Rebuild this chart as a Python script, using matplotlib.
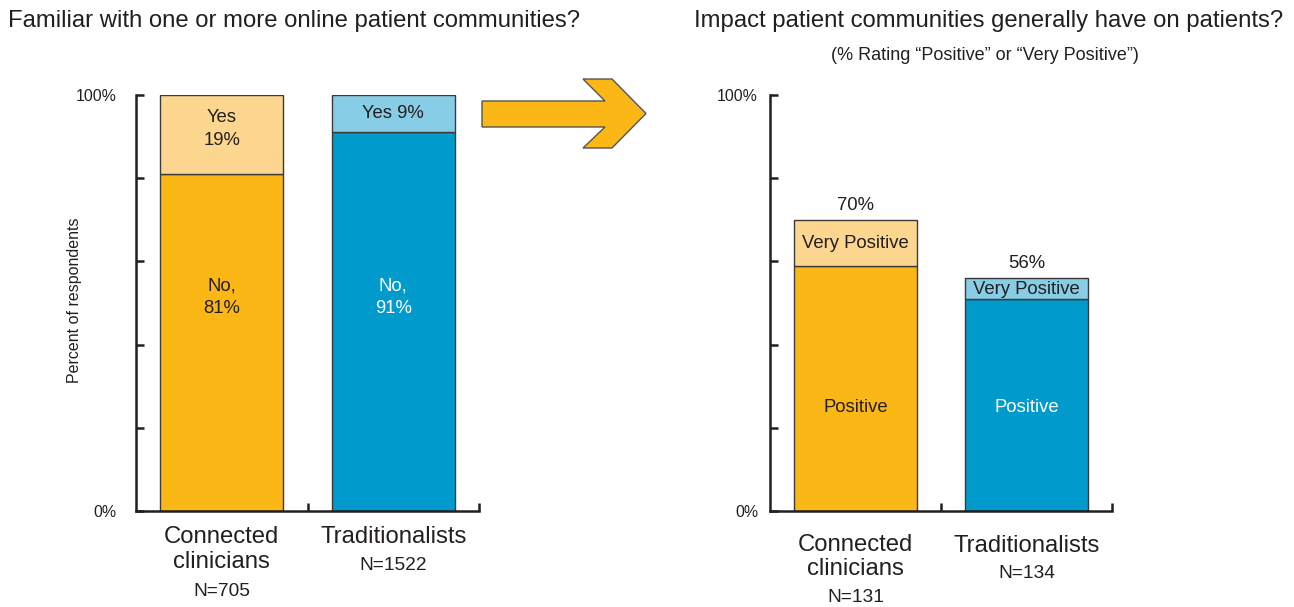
import matplotlib
matplotlib.use("Agg")
import matplotlib.pyplot as plt
from matplotlib.patches import Polygon

plt.rcParams["font.family"] = ["Liberation Sans", "DejaVu Sans"]

# data
groups = ["Connected\nclinicians", "Traditionalists"]
left_n = ["N=705", "N=1522"]
right_n = ["N=131", "N=134"]
familiar_no = [81, 91]
familiar_yes = [19, 9]
impact_positive = [59, 51]
impact_very = [11, 5]
impact_total = [70, 56]

ORANGE = "#fbb715"
ORANGE_LT = "#fdd68f"
BLUE = "#009bcc"
BLUE_LT = "#88cde6"
DARK = "#231f20"
EDGE = "#3a3a3a"

W, H = 1294, 607
fig = plt.figure(figsize=(W / 100, H / 100), dpi=100)

CAT_FS = 17.2
N_FS = 13.8
IN_FS = 13.3


def px_axes(x0, x1, y0, y1):
    return fig.add_axes([x0 / W, (H - y1) / H, (x1 - x0) / W, (y1 - y0) / H])


def style(ax, pad):
    ax.set_xlim(-0.5, 1.5)
    ax.set_ylim(0, 100)
    for s in ["top", "right"]:
        ax.spines[s].set_visible(False)
    for s in ["left", "bottom"]:
        ax.spines[s].set_linewidth(1.8)
        ax.spines[s].set_color(DARK)
    ax.set_yticks([0, 20, 40, 60, 80, 100])
    ax.set_yticklabels(["0%", "", "", "", "", "100%"])
    ax.set_xticks([0.5, 1.5])
    ax.set_xticklabels(["", ""])
    ax.tick_params(axis="both", direction="in", length=6, width=1.8, color=DARK)
    ax.tick_params(axis="y", labelsize=11.4, labelcolor=DARK, pad=pad)


def px2y(ypix):
    return (511 - ypix) / 4.16


x = [0, 1]
bw = 0.72

# left panel
ax1 = px_axes(136, 479, 95, 511)
style(ax1, 13.7)
ax1.bar(x, familiar_no, bw, color=[ORANGE, BLUE], edgecolor=EDGE, linewidth=1)
ax1.bar(x, familiar_yes, bw, bottom=familiar_no, color=[ORANGE_LT, BLUE_LT],
        edgecolor=EDGE, linewidth=1)
ax1.text(0, px2y(129), f"Yes\n{familiar_yes[0]}%", ha="center", va="center",
         fontsize=IN_FS, color=DARK, linespacing=1.4)
ax1.text(1, px2y(113.5), f"Yes {familiar_yes[1]}%", ha="center", va="center",
         fontsize=IN_FS, color=DARK)
ax1.text(0, px2y(297), f"No,\n{familiar_no[0]}%", ha="center", va="center",
         fontsize=IN_FS, color=DARK, linespacing=1.4)
ax1.text(1, px2y(297), f"No,\n{familiar_no[1]}%", ha="center", va="center",
         fontsize=IN_FS, color="white", linespacing=1.4)
fig.text(75 / W, (H - 300) / H, "Percent of respondents", rotation=90,
         ha="center", va="center", fontsize=11.5, color=DARK)

ax1.text(0, px2y(549.5), groups[0], ha="center", va="center", fontsize=CAT_FS,
         color=DARK, clip_on=False, linespacing=1.17)
ax1.text(0, px2y(591), left_n[0], ha="center", va="center", fontsize=N_FS,
         color=DARK, clip_on=False)
ax1.text(1, px2y(537), groups[1], ha="center", va="center", fontsize=CAT_FS,
         color=DARK, clip_on=False)
ax1.text(1, px2y(566), left_n[1], ha="center", va="center", fontsize=N_FS,
         color=DARK, clip_on=False)

# right panel
ax2 = px_axes(770, 1112, 95, 511)
style(ax2, 8.6)
ax2.bar(x, impact_positive, bw, color=[ORANGE, BLUE], edgecolor=EDGE, linewidth=1)
ax2.bar(x, impact_very, bw, bottom=impact_positive, color=[ORANGE_LT, BLUE_LT],
        edgecolor=EDGE, linewidth=1)
for i in x:
    ax2.text(i, impact_positive[i] + impact_very[i] / 2 - 0.3, "Very Positive",
             ha="center", va="center", fontsize=IN_FS, color=DARK)
    ax2.text(i, px2y(408), "Positive", ha="center", va="center", fontsize=IN_FS,
             color=DARK if i == 0 else "white")
    ax2.text(i, impact_total[i] + 3.5, f"{impact_total[i]}%", ha="center",
             va="center", fontsize=IN_FS, color=DARK)

ax2.text(0, px2y(557), groups[0], ha="center", va="center", fontsize=CAT_FS,
         color=DARK, clip_on=False, linespacing=1.17)
ax2.text(0, px2y(598), right_n[0], ha="center", va="center", fontsize=N_FS,
         color=DARK, clip_on=False)
ax2.text(1, px2y(546), groups[1], ha="center", va="center", fontsize=CAT_FS,
         color=DARK, clip_on=False)
ax2.text(1, px2y(574), right_n[1], ha="center", va="center", fontsize=N_FS,
         color=DARK, clip_on=False)

# titles
fig.text(8 / W, (H - 27) / H, "Familiar with one or more online patient communities?",
         ha="left", va="baseline", fontsize=17.2, color=DARK)
fig.text(1283 / W, (H - 27) / H, "Impact patient communities generally have on patients?",
         ha="right", va="baseline", fontsize=17.2, color=DARK)
fig.text(985 / W, (H - 60) / H, "(% Rating \u201cPositive\u201d or \u201cVery Positive\u201d)",
         ha="center", va="baseline", fontsize=13, color=DARK)

# arrow between panels
arrow_px = [(482, 101), (605, 101), (583, 79), (612, 79), (646, 113.5),
            (612, 148), (583, 148), (605, 127), (482, 127)]
arrow = Polygon([(px / W, (H - py) / H) for px, py in arrow_px], closed=True,
                transform=fig.transFigure, facecolor=ORANGE, edgecolor="#555555",
                linewidth=1)
fig.patches.append(arrow)

fig.savefig("out.png", dpi=100)
